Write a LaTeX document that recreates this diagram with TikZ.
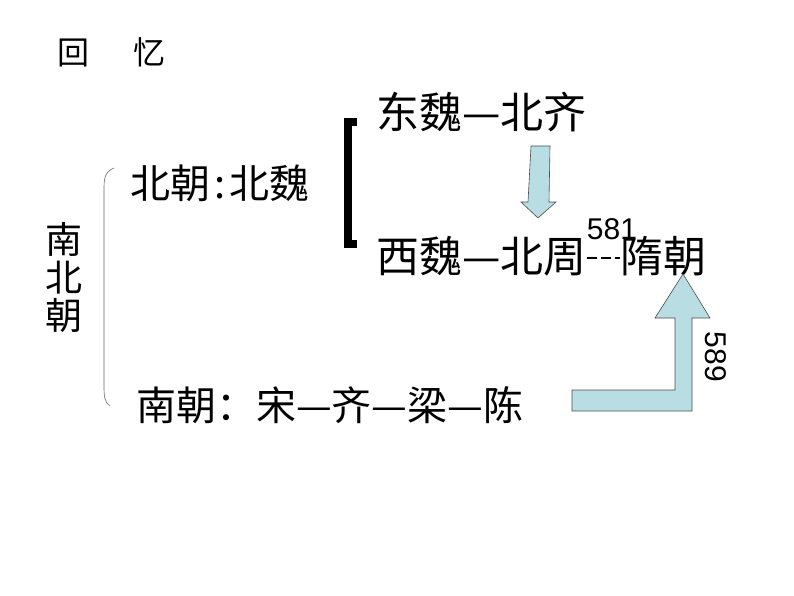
\documentclass[tikz,border=0pt]{standalone}
\usepackage{fontspec}
\newfontfamily\cjk{Noto Sans CJK SC}
\newfontfamily\lib{Liberation Sans}
\definecolor{lb}{HTML}{B8DEE3}
\begin{document}
\begin{tikzpicture}[x=1pt,y=-1pt,
  txt/.style={font=\cjk\fontsize{43}{44}\selectfont,inner sep=0,anchor=west},
  arr/.style={fill=lb,draw=black!70,line width=0.6pt}]
\useasboundingbox (0,0) rectangle (794,596);
\node[txt,font=\cjk\fontsize{32}{34}\selectfont] (title) at (57,52) {回\hspace{44pt}忆};
\node[txt] (dw) at (376,112) {东魏—北齐};
\node[txt,font=\cjk\fontsize{40}{42}\selectfont] (bc) at (130,183) {北朝\hspace{4pt}:\hspace{4pt}北魏};
\node[txt] (xw) at (376,256) {西魏—北周};
\node[txt] (sui) at (620,256) {隋朝};
\draw[dashed,dash pattern=on 10pt off 4pt,line width=1.5pt] (xw.east) ++(0,2) coordinate (d1) -- (sui.west|-d1);
\node[inner sep=0,font=\lib\fontsize{30}{32}\selectfont] (n581) at (612,229) {581};
\node[inner sep=0,anchor=north,align=center,font=\cjk\fontsize{37}{38}\selectfont] (nbc) at (64,222) {南\\北\\朝};
\node[txt,font=\cjk\fontsize{40}{42}\selectfont] (nc) at (136,405) {南朝：宋—齐—梁—陈};
\node[inner sep=0,rotate=-90,font=\lib\fontsize{30}{32}\selectfont] (n589) at (716,357) {589};
% thick bracket
\draw[line width=8pt] (357,122) -- (348,122) -- (348,244) -- (357,244);
% thin brace
\draw[line width=0.6pt,black!60] (114,168) .. controls (104,172) and (104,180) .. (104,190) -- (104,385) .. controls (104,395) and (104,402) .. (110,406);
% down arrow
\path[arr] (531,146) -- (550,146) -- (549,202) -- (556,202) -- (538,218) -- (521,202) -- (528,202) -- cycle;
% L arrow
\path[arr] (572,390) -- (675,390) -- (675,318) -- (655,318) -- (683,274) -- (710,318) -- (692,318) -- (692,411) -- (572,411) -- cycle;
\end{tikzpicture}
\end{document}
